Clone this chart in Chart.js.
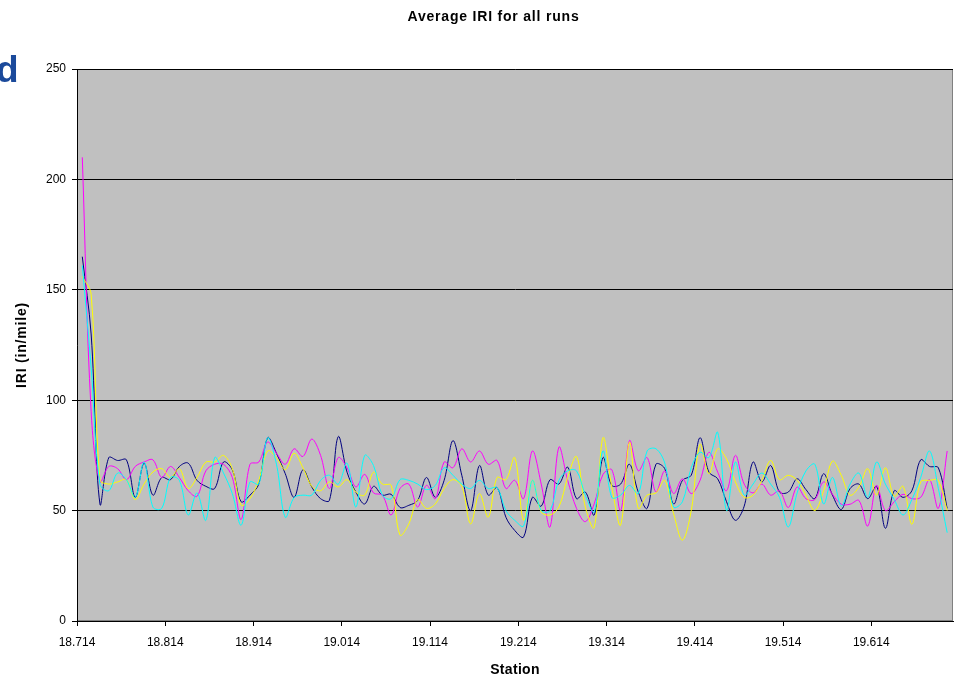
<!DOCTYPE html>
<html>
<head>
<meta charset="utf-8">
<script src="https://cdn.jsdelivr.net/npm/chart.js@4.4.1/dist/chart.umd.min.js"></script>
<style>
  html, body { margin: 0; padding: 0; background: #fff; }
  #wrap { position: relative; width: 954px; height: 677px; overflow: hidden; }
  #titre { position: absolute; left: 0; width: 987px; top: 7px; text-align: center; line-height: 18px;
           font-family: "Liberation Sans", Arial, sans-serif; font-weight: bold; font-size: 14px;
           letter-spacing: 0.8px; color: #000; }
  #lettre { position: absolute; left: -4px; top: 51px;
            font: bold 37px "Liberation Sans", Arial, sans-serif; color: #1b4a9b; line-height: 1; }
</style>
</head>
<body>
<div id="wrap">
  <canvas id="grafica" width="954" height="677"></canvas>
  <div id="titre">Average IRI for all runs</div>
  <div id="lettre">d</div>
</div>
<script>
// stations: one reading every 0.01 from 18.72
const stations = [];
for (let i = 0; i < 99; i++) stations.push(+(18.72 + i * 0.01).toFixed(3));

const xTicks = [18.714, 18.814, 18.914, 19.014, 19.114, 19.214, 19.314, 19.414, 19.514, 19.614];

const run1 = [165, 130, 53, 74, 72.7, 73, 56, 71.5, 57, 65, 64, 70, 71.5, 63.7, 61, 60, 72, 68.5, 54, 57,
  62, 83, 76, 66.7, 56, 68.5, 60.7, 55.4, 54.6, 83.5, 67.4, 58.4, 53, 61, 57, 57.4, 51.4, 52.4, 54.6, 65,
  56, 63.7, 81.7, 66, 50, 70.4, 57, 60.4, 47, 41, 38, 56, 52, 64, 62, 69.7, 55.4, 58.4, 48, 74,
  61.4, 62, 71, 58.4, 51, 71, 69, 53, 63.7, 66, 83, 67.4, 64.4, 54, 45.6, 52, 72, 63, 70.4, 58.4,
  58.4, 64.4, 59.5, 55.4, 66.7, 57, 50.5, 60, 62, 55.4, 61, 42, 59, 56, 59, 73, 70, 69.4, 51];

const run2 = [210, 95, 63, 70, 69, 64, 70, 72, 73, 65, 70, 65, 59, 56.5, 68, 71, 71, 65, 46, 71,
  72, 81, 76, 71, 78, 74.5, 82.4, 75, 60, 74, 69.4, 60.7, 66.4, 58, 57, 48, 60, 62, 51.6, 61.5,
  55.4, 72, 69.4, 78, 72, 77, 71, 72.7, 60, 63.7, 55.4, 77, 62, 42.6, 78.7, 63.7, 51, 45, 53, 66.4,
  68.5, 50, 81.7, 68, 74, 58.4, 68, 57.7, 64.4, 57.7, 63.7, 76.4, 67.4, 59, 75, 62, 58, 62, 57, 59,
  51.4, 60.7, 55.4, 55, 63, 57.4, 52.9, 52.9, 54.6, 43, 61.4, 50, 54, 57.4, 55.4, 56, 64, 51, 77];

const run3 = [156, 148, 64, 62, 63, 64, 55, 62, 67.5, 69, 65, 69, 60, 65, 72, 72, 75, 69, 52.4, 55.4,
  63.7, 77, 74, 68.5, 76, 69.4, 61, 59, 63, 60.7, 64, 58.4, 57, 67.4, 62, 61.4, 38.9, 44, 55, 51,
  53, 60, 64, 61, 44, 57.7, 47, 65, 64, 74, 45.6, 63.7, 49.4, 48, 51.6, 65, 74.5, 51.6, 42.3, 83,
  60.7, 43.4, 81, 51, 57, 58, 63.7, 48.6, 36.6, 50, 80, 66.7, 78, 73.4, 63, 56, 57, 63.7, 72.7, 64,
  66, 63.7, 57, 50, 59, 72.4, 66, 57, 60.7, 69, 57, 69.4, 56.5, 61, 43.8, 63, 63.7, 63.7, 50];

const run4 = [161, 115, 62, 59, 67, 64, 56, 72, 51.6, 51, 65, 63.7, 48, 58, 45.6, 74, 67, 57.7, 43.4, 63,
  62, 83, 71, 47, 55.9, 57, 57, 63.7, 66, 62, 71.5, 51.6, 75, 70.4, 57, 55.4, 64, 63.7, 62, 59.5,
  61.4, 69.4, 66, 62, 60, 63.7, 60, 60.4, 50, 45.6, 43, 63.7, 50, 50, 63.7, 68, 68, 57, 49.4, 77,
  56, 57, 61.4, 57.7, 77, 78, 71.5, 51.6, 54, 69.4, 76.4, 74, 85.4, 50, 72, 57, 62, 67, 62, 56,
  42.6, 58, 68, 71, 53, 65, 52, 62, 67, 56, 72, 62, 55, 48, 55, 65, 77, 60, 40];

const pts = arr => arr.map((v, i) => ({ x: stations[i], y: v }));

const plotBg = {
  id: 'plotBg',
  beforeDraw(chart) {
    const { ctx, chartArea: a } = chart;
    ctx.save();
    ctx.fillStyle = '#c0c0c0';
    ctx.fillRect(a.left, a.top, a.right - a.left, a.bottom - a.top);
    ctx.strokeStyle = '#808080';
    ctx.lineWidth = 1;
    ctx.strokeRect(a.left + 0.5, a.top + 0.5, a.right - a.left - 1, a.bottom - a.top - 1);
    ctx.restore();
  }
};

// axis titles, drawn with a little extra letter spacing like the original export
const axisTitles = {
  id: 'axisTitles',
  afterDraw(chart) {
    const { ctx, chartArea: a } = chart;
    ctx.save();
    ctx.fillStyle = '#000';
    ctx.font = 'bold 14px "Liberation Sans", Arial, sans-serif';
    ctx.textAlign = 'center';
    ctx.textBaseline = 'middle';
    ctx.letterSpacing = '0.3px';
    ctx.fillText('Station', (a.left + a.right) / 2, 670);
    ctx.translate(22, (a.top + a.bottom) / 2);
    ctx.rotate(-Math.PI / 2);
    ctx.letterSpacing = '0.8px';
    ctx.fillText('IRI (in/mile)', 0, 0);
    ctx.restore();
  }
};

const police = { family: '"Liberation Sans", Arial, sans-serif', size: 12 };

let ctx = document.getElementById('grafica').getContext('2d');

let iri = new Chart(ctx, {
  type: 'line',
  data: {
    datasets: [
      { label: 'Run 1', data: pts(run1), borderColor: '#000080', order: 4 },
      { label: 'Run 2', data: pts(run2), borderColor: '#ff00ff', order: 3 },
      { label: 'Run 3', data: pts(run3), borderColor: '#ffff00', order: 2 },
      { label: 'Run 4', data: pts(run4), borderColor: '#00ffff', order: 1 }
    ]
  },
  options: {
    responsive: false,
    animation: false,
    layout: { padding: { top: 69, right: 1, left: 0, bottom: 0 } },
    elements: {
      point: { radius: 0 },
      line: { borderWidth: 1, tension: 0.35, fill: false }
    },
    plugins: {
      legend: { display: false },
      tooltip: { enabled: false },
      title: { display: false }
    },
    scales: {
      x: {
        type: 'linear',
        min: 18.714,
        max: 19.7066,
        afterBuildTicks: s => { s.ticks = xTicks.map(v => ({ value: v })); },
        afterFit: s => { s.height = 56; },
        ticks: {
          callback: v => v.toFixed(3),
          font: police, color: '#000', padding: 9, maxRotation: 0, autoSkip: false
        },
        grid: { drawOnChartArea: false, drawTicks: true, tickLength: 5, color: '#000' },
        border: { color: '#000' }
      },
      y: {
        min: 0,
        max: 250,
        afterFit: s => { s.width = 77; },
        ticks: { stepSize: 50, font: police, color: '#000', padding: 6 },
        grid: { color: '#000', tickLength: 5 },
        border: { color: '#000' }
      }
    }
  },
  plugins: [plotBg, axisTitles]
});
</script>
</body>
</html>
